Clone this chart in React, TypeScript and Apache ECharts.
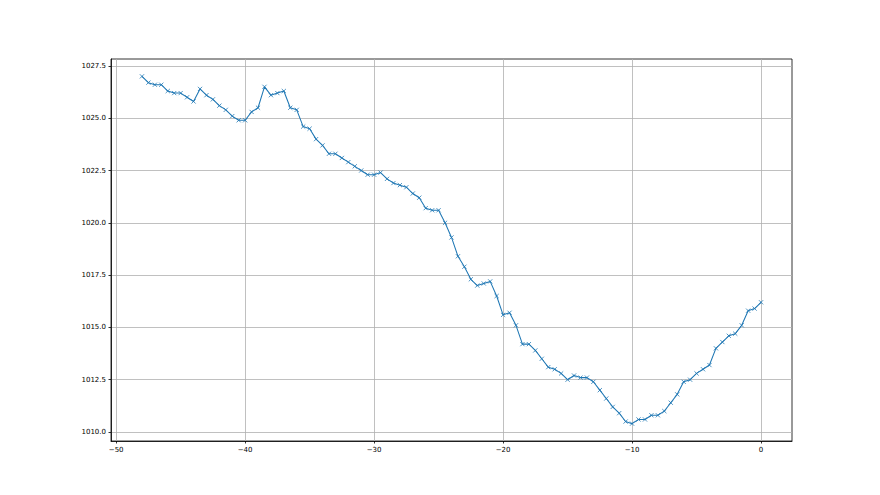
import React, { useEffect, useRef } from "react";
import * as echarts from "echarts";

const hours = [
  -48, -47.5, -47, -46.5, -46, -45.5, -45, -44.5, -44, -43.5,
  -43, -42.5, -42, -41.5, -41, -40.5, -40, -39.5, -39, -38.5,
  -38, -37.5, -37, -36.5, -36, -35.5, -35, -34.5, -34, -33.5,
  -33, -32.5, -32, -31.5, -31, -30.5, -30, -29.5, -29, -28.5,
  -28, -27.5, -27, -26.5, -26, -25.5, -25, -24.5, -24, -23.5,
  -23, -22.5, -22, -21.5, -21, -20.5, -20, -19.5, -19, -18.5,
  -18, -17.5, -17, -16.5, -16, -15.5, -15, -14.5, -14, -13.5,
  -13, -12.5, -12, -11.5, -11, -10.5, -10, -9.5, -9, -8.5,
  -8, -7.5, -7, -6.5, -6, -5.5, -5, -4.5, -4, -3.5,
  -3, -2.5, -2, -1.5, -1, -0.5, 0,
];

const pressure = [
  1027.0, 1026.7, 1026.6, 1026.6, 1026.3, 1026.2, 1026.2, 1026.0, 1025.8, 1026.4,
  1026.1, 1025.9, 1025.6, 1025.4, 1025.1, 1024.9, 1024.9, 1025.3, 1025.5, 1026.5,
  1026.1, 1026.2, 1026.3, 1025.5, 1025.4, 1024.6, 1024.5, 1024.0, 1023.7, 1023.3,
  1023.3, 1023.1, 1022.9, 1022.7, 1022.5, 1022.3, 1022.3, 1022.4, 1022.1, 1021.9,
  1021.8, 1021.7, 1021.4, 1021.2, 1020.7, 1020.6, 1020.6, 1020.0, 1019.3, 1018.4,
  1017.9, 1017.3, 1017.0, 1017.1, 1017.2, 1016.5, 1015.6, 1015.7, 1015.1, 1014.2,
  1014.2, 1013.9, 1013.5, 1013.1, 1013.0, 1012.8, 1012.5, 1012.7, 1012.6, 1012.6,
  1012.4, 1012.0, 1011.6, 1011.2, 1010.9, 1010.5, 1010.4, 1010.6, 1010.6, 1010.8,
  1010.8, 1011.0, 1011.4, 1011.8, 1012.4, 1012.5, 1012.8, 1013.0, 1013.2, 1014.0,
  1014.3, 1014.6, 1014.7, 1015.1, 1015.8, 1015.9, 1016.2,
];

const xTicks = [-50, -40, -30, -20, -10, 0];
const yTicks = [1010, 1012.5, 1015, 1017.5, 1020, 1022.5, 1025, 1027.5];

export default function App() {
  const ref = useRef<HTMLDivElement>(null);

  useEffect(() => {
    document.body.style.margin = "0";
    if (!ref.current) return;
    const chart = echarts.init(ref.current, null, { renderer: "svg" });
    const font = "DejaVu Sans";
    const gridColor = "#b0b0b0";
    chart.setOption({
      animation: false,
      backgroundColor: "#ffffff",
      grid: {
        left: 111,
        right: 88,
        top: 59,
        bottom: 54,
        show: true,
        borderColor: "#000000",
        borderWidth: 0.8,
        backgroundColor: "transparent",
      },
      xAxis: {
        type: "value",
        min: -50.4,
        max: 2.4,
        axisLine: { show: true, onZero: false, lineStyle: { color: "#000000", width: 0.8 } },
        axisTick: {
          show: true,
          length: 2.5,
          customValues: xTicks,
          lineStyle: { color: "#000000", width: 0.8 },
        },
        axisLabel: {
          customValues: xTicks,
          margin: 5,
          fontSize: 7,
          fontFamily: font,
          color: "#000000",
          formatter: (v: number) => String(v).replace("-", "\u2212"),
        },
        splitLine: { show: true, lineStyle: { color: gridColor, width: 0.8 } },
      },
      yAxis: {
        type: "value",
        min: 1009.57,
        max: 1027.83,
        axisLine: { show: true, onZero: false, lineStyle: { color: "#000000", width: 0.8 } },
        axisTick: {
          show: true,
          length: 2.5,
          customValues: yTicks,
          lineStyle: { color: "#000000", width: 0.8 },
        },
        axisLabel: {
          customValues: yTicks,
          margin: 5,
          fontSize: 7,
          fontFamily: font,
          color: "#000000",
          formatter: (v: number) => v.toFixed(1),
        },
        splitLine: { show: true, lineStyle: { color: gridColor, width: 0.8 } },
      },
      series: [
        {
          type: "line",
          data: hours.map((h, i) => [h, pressure[i]]),
          lineStyle: { color: "#1f77b4", width: 1.05 },
          symbol: "path://M0,0L10,10M10,0L0,10",
          symbolSize: 4.2,
          showAllSymbol: true,
          itemStyle: {
            color: "#1f77b4",
            borderColor: "#1f77b4",
            borderWidth: 0.8,
          },
          emphasis: { disabled: true },
        },
      ],
    });
    return () => chart.dispose();
  }, []);

  return <div ref={ref} style={{ width: 880, height: 495 }} />;
}
